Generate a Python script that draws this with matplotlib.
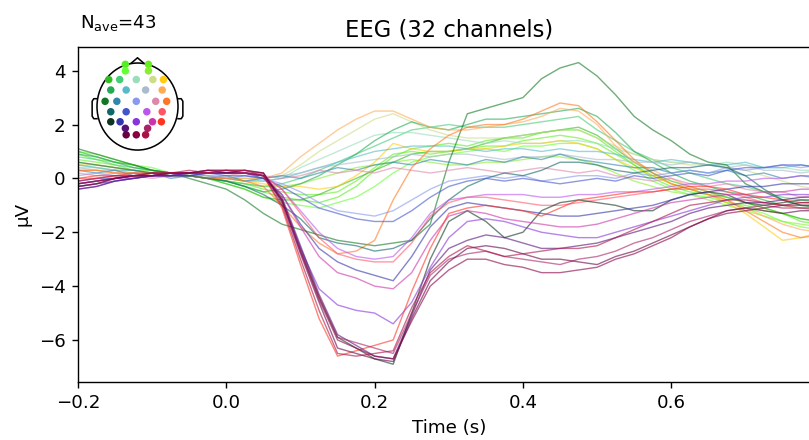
import numpy as np
import matplotlib
matplotlib.use("Agg")
import matplotlib.pyplot as plt
from matplotlib.patches import Circle, Polygon

# time axis (s), one sample every 25 ms
times = np.round(np.arange(41) * 0.025 - 0.2, 3)

ch_names = ["Fp1", "Fp2", "AF3", "AF4", "F7", "F3", "Fz", "F4", "F8",
            "FC5", "FC1", "FC2", "FC6", "T7", "C3", "Cz", "C4", "T8",
            "CP5", "CP1", "CP2", "CP6", "P7", "P3", "Pz", "P4", "P8",
            "PO3", "PO4", "O1", "Oz", "O2"]

ch_colors = ["#55ee22", "#66ee22", "#66ff33", "#88ee33", "#33bb22", "#44cc77",
             "#99ddbb", "#ccdd88", "#ffcc11", "#22aa55", "#55bbcc", "#aabbcc",
             "#ffaa55", "#117722", "#3388aa", "#8899ee", "#dd88aa", "#ff7722",
             "#116666", "#4455cc", "#bb55ee", "#ff5566", "#113322", "#3333aa",
             "#8833dd", "#cc33aa", "#ff3322", "#551177", "#aa2266", "#660044",
             "#880044", "#aa1144"]

# sensor layout on the head (unit circle)
sensor_x = [-0.30, 0.27, -0.30, 0.27, -0.71, -0.44, -0.03, 0.38, 0.64,
            -0.66, -0.28, 0.20, 0.61, -0.80, -0.51, -0.03, 0.45, 0.72,
            -0.66, -0.28, 0.23, 0.61, -0.66, -0.43, -0.03, 0.37, 0.59,
            -0.30, 0.25, -0.28, -0.03, 0.20]
sensor_y = [0.97, 0.97, 0.82, 0.82, 0.62, 0.62, 0.62, 0.62, 0.62,
            0.38, 0.38, 0.38, 0.38, 0.12, 0.12, 0.12, 0.12, 0.12,
            -0.12, -0.12, -0.12, -0.12, -0.35, -0.35, -0.35, -0.35, -0.35,
            -0.50, -0.50, -0.65, -0.65, -0.65]

# evoked amplitudes (uV)
Fp1 = [0.9, 0.7, 0.6, 0.5, 0.3, 0.2, 0.1, 0.1, -0.1, -0.3,
       -0.5, -0.7, -0.8, -0.9, -0.7, -0.3, 0.3, 0.8, 1.1, 1.2,
       1.3, 1.2, 1.4, 1.5, 1.5, 1.7, 1.8, 1.8, 1.5, 1.0,
       0.5, 0.0, -0.3, -0.5, -0.6, -0.9, -1.0, -1.2, -1.3, -1.6, -1.7]
Fp2 = [0.7, 0.6, 0.5, 0.3, 0.3, 0.2, 0.1, 0.0, -0.1, -0.2,
       -0.4, -0.5, -0.6, -0.6, -0.5, -0.1, 0.4, 0.9, 1.0, 0.9,
       1.0, 1.1, 1.2, 1.2, 1.4, 1.5, 1.6, 1.5, 1.3, 0.9,
       0.5, 0.1, -0.2, -0.4, -0.6, -0.7, -0.9, -1.1, -1.3, -1.5, -1.6]
AF3 = [1.0, 0.9, 0.7, 0.5, 0.4, 0.2, 0.1, 0.0, -0.2, -0.4,
       -0.7, -0.9, -1.0, -1.1, -0.9, -0.7, -0.3, 0.2, 0.6, 0.8,
       0.9, 1.0, 1.1, 1.0, 1.2, 1.2, 1.3, 1.3, 1.1, 0.7,
       0.3, -0.1, -0.4, -0.6, -0.7, -0.9, -1.1, -1.3, -1.6, -1.8, -1.9]
AF4 = [0.6, 0.5, 0.4, 0.3, 0.2, 0.2, 0.1, 0.0, -0.1, -0.2,
       -0.3, -0.3, -0.2, 0.0, 0.2, 0.4, 0.5, 0.6, 0.7, 0.6,
       0.5, 0.5, 0.6, 0.6, 0.7, 0.8, 0.8, 0.7, 0.5, 0.2,
       -0.1, -0.3, -0.5, -0.6, -0.8, -1.0, -1.2, -1.4, -1.6, -1.7, -1.8]
F7 = [1.0, 0.8, 0.6, 0.5, 0.3, 0.2, 0.1, 0.0, -0.2, -0.4,
      -0.7, -0.8, -0.8, -0.6, -0.3, 0.0, 0.3, 0.6, 0.9, 1.0,
      1.0, 1.1, 1.3, 1.5, 1.6, 1.7, 1.8, 1.9, 1.6, 1.1,
      0.6, 0.2, -0.1, -0.3, -0.5, -0.7, -0.9, -1.1, -1.3, -1.5, -1.6]
F3 = [0.8, 0.7, 0.5, 0.4, 0.3, 0.2, 0.1, 0.0, -0.1, -0.2,
      -0.3, -0.2, 0.0, 0.3, 0.6, 0.9, 1.2, 1.5, 1.8, 1.9,
      2.0, 1.9, 1.9, 1.9, 2.0, 2.1, 2.2, 2.3, 1.8, 1.4,
      1.0, 0.7, 0.4, 0.2, 0.0, -0.2, -0.3, -0.5, -0.7, -0.8, -0.9]
Fz = [0.5, 0.4, 0.3, 0.3, 0.2, 0.1, 0.1, 0.0, 0.0, 0.0,
      -0.1, 0.0, 0.4, 0.7, 1.0, 1.3, 1.6, 1.7, 1.7, 1.6,
      1.5, 1.4, 1.3, 1.4, 1.3, 1.3, 1.4, 1.4, 1.3, 1.1,
      0.9, 0.7, 0.6, 0.6, 0.5, 0.6, 0.5, 0.4, 0.4, 0.3, 0.3]
F4 = [0.4, 0.4, 0.3, 0.2, 0.2, 0.1, 0.1, 0.0, 0.0, 0.0,
      0.0, 0.1, 0.5, 1.0, 1.4, 1.8, 2.2, 2.4, 2.1, 1.8,
      1.6, 1.5, 1.5, 1.5, 1.6, 1.7, 1.8, 1.8, 1.5, 1.2,
      0.9, 0.7, 0.6, 0.5, 0.5, 0.4, 0.3, 0.1, -0.1, -0.3, -0.4]
F8 = [0.5, 0.5, 0.4, 0.3, 0.2, 0.2, 0.1, 0.0, 0.0, -0.1,
      -0.2, -0.3, -0.3, -0.4, -0.3, 0.1, 0.6, 1.3, 1.1, 1.0,
      1.0, 1.1, 1.1, 1.2, 1.3, 1.3, 1.4, 1.3, 1.1, 0.7,
      0.4, 0.1, -0.2, -0.4, -0.6, -0.9, -1.3, -1.8, -2.3, -2.2, -2.0]
FC5 = [0.9, 0.8, 0.6, 0.4, 0.3, 0.2, 0.1, 0.0, -0.1, -0.3,
       -0.5, -0.4, -0.2, 0.1, 0.5, 0.9, 1.4, 1.8, 2.1, 1.9,
       1.8, 2.0, 2.2, 2.2, 2.3, 2.4, 2.5, 2.6, 2.3, 1.7,
       1.0, 0.6, 0.2, -0.1, -0.3, -0.5, -0.6, -0.8, -1.0, -1.1, -1.2]
FC1 = [0.5, 0.4, 0.3, 0.3, 0.2, 0.2, 0.1, 0.0, 0.0, -0.1,
       -0.1, 0.0, 0.2, 0.4, 0.6, 0.8, 1.0, 1.1, 1.2, 1.2,
       1.2, 1.1, 1.0, 1.1, 1.1, 1.0, 1.1, 1.0, 1.0, 0.9,
       0.7, 0.6, 0.7, 0.6, 0.5, 0.5, 0.6, 0.4, 0.4, 0.5, 0.4]
FC2 = [0.4, 0.3, 0.3, 0.2, 0.2, 0.1, 0.2, 0.1, 0.0, 0.1,
       0.0, 0.1, 0.2, 0.4, 0.5, 0.6, 0.7, 0.8, 0.9, 0.8,
       0.9, 0.9, 0.8, 0.7, 0.8, 0.8, 0.9, 0.8, 0.7, 0.7,
       0.6, 0.6, 0.5, 0.6, 0.5, 0.4, 0.5, 0.3, 0.3, 0.2, 0.3]
FC6 = [0.3, 0.3, 0.2, 0.2, 0.1, 0.1, 0.1, 0.0, 0.0, 0.0,
       0.0, 0.2, 0.8, 1.3, 1.8, 2.2, 2.5, 2.5, 2.2, 1.9,
       1.8, 1.8, 1.9, 2.0, 2.1, 2.3, 2.6, 2.5, 2.0, 1.2,
       0.6, 0.3, 0.0, -0.3, -0.5, -0.8, -1.1, -1.4, -1.7, -1.9, -2.0]
T7 = [1.1, 0.9, 0.7, 0.5, 0.3, 0.2, 0.0, -0.2, -0.4, -0.8,
      -1.3, -1.7, -1.9, -2.1, -2.3, -2.4, -2.5, -2.4, -2.3, -1.7,
      0.6, 2.4, 2.6, 2.8, 3.0, 3.7, 4.1, 4.3, 3.8, 3.1,
      2.3, 1.8, 1.4, 0.9, 0.6, 0.5, -0.2, -0.5, -0.8, -1.0, -1.1]
C3 = [0.3, 0.2, 0.3, 0.1, 0.2, 0.0, 0.1, 0.0, 0.1, -0.1,
      0.0, 0.1, 0.0, 0.2, 0.4, 0.3, 0.5, 0.6, 0.5, 0.7,
      0.6, 0.5, 0.7, 0.6, 0.8, 0.7, 0.9, 0.7, 0.6, 0.5,
      0.4, 0.4, 0.2, 0.3, 0.2, 0.3, 0.1, 0.2, 0.0, 0.1, 0.0]
Cz = [0.1, 0.2, 0.1, 0.0, 0.1, 0.2, 0.1, 0.1, 0.0, 0.1,
      0.0, -0.2, -0.5, -0.9, -1.2, -1.3, -1.4, -1.2, -0.8, -0.4,
      -0.1, 0.0, 0.1, 0.0, 0.1, -0.1, 0.0, 0.1, 0.1, 0.0,
      0.2, 0.1, 0.2, 0.3, 0.2, 0.4, 0.3, 0.4, 0.5, 0.4, 0.5]
C4 = [0.2, 0.1, 0.2, 0.1, 0.0, 0.1, 0.2, 0.1, 0.1, 0.2,
      0.1, 0.0, 0.1, 0.3, 0.2, 0.3, 0.2, 0.4, 0.3, 0.2,
      0.3, 0.4, 0.3, 0.2, 0.3, 0.4, 0.3, 0.2, 0.3, 0.1,
      0.0, -0.1, 0.0, -0.2, -0.3, -0.2, -0.4, -0.5, -0.5, -0.7, -0.6]
T8 = [0.3, 0.3, 0.2, 0.2, 0.1, 0.1, 0.1, 0.0, 0.0, -0.1,
      -0.3, -1.0, -1.8, -2.4, -2.8, -2.7, -2.3, -0.8, 0.4, 1.1,
      1.6, 1.9, 2.0, 2.0, 2.2, 2.5, 2.8, 2.7, 2.1, 1.4,
      0.7, 0.2, -0.2, -0.4, -0.6, -0.8, -1.2, -1.6, -2.0, -2.2, -2.1]
CP5 = [0.6, 0.5, 0.4, 0.3, 0.2, 0.1, 0.1, 0.0, -0.1, -0.3,
       -0.6, -1.0, -1.5, -2.2, -2.4, -2.5, -2.7, -2.6, -2.3, -1.5,
       -0.8, -0.3, 0.0, 0.2, 0.1, 0.3, 0.6, 0.6, 0.5, 0.3,
       0.2, 0.3, 0.4, 0.4, 0.5, 0.4, 0.1, -0.4, -0.8, -1.0, -1.0]
CP1 = [-0.1, 0.0, 0.0, 0.1, 0.1, 0.1, 0.1, 0.2, 0.1, 0.1,
       0.0, -0.3, -0.7, -1.1, -1.3, -1.5, -1.6, -1.6, -1.2, -0.7,
       -0.3, -0.1, 0.0, -0.1, 0.0, -0.1, -0.2, -0.1, 0.0, -0.1,
       0.1, 0.0, 0.1, 0.2, 0.1, 0.3, 0.4, 0.4, 0.5, 0.5, 0.4]
CP2 = [-0.2, -0.1, 0.0, 0.0, 0.1, 0.1, 0.2, 0.2, 0.2, 0.2,
       0.1, -0.4, -1.2, -2.0, -2.6, -2.9, -3.0, -2.9, -2.2, -1.3,
       -0.8, -0.7, -0.6, -0.6, -0.6, -0.7, -0.7, -0.6, -0.6, -0.5,
       -0.5, -0.4, -0.3, -0.2, -0.2, -0.1, -0.1, 0.0, 0.0, 0.1, 0.1]
CP6 = [0.0, 0.0, 0.1, 0.1, 0.1, 0.2, 0.2, 0.2, 0.2, 0.2,
       0.1, -0.4, -1.3, -2.2, -2.8, -3.0, -3.1, -3.1, -2.4, -1.4,
       -0.9, -0.7, -0.7, -0.8, -0.9, -1.0, -1.0, -0.9, -0.8, -0.7,
       -0.6, -0.5, -0.4, -0.4, -0.4, -0.5, -0.7, -0.9, -1.0, -1.1, -1.1]
P7 = [-0.2, -0.1, 0.0, 0.1, 0.1, 0.2, 0.2, 0.2, 0.2, 0.2,
      0.1, -0.8, -2.6, -4.4, -5.9, -6.3, -6.7, -6.9, -5.0, -3.0,
      -1.6, -1.2, -1.6, -2.2, -2.0, -1.2, -0.9, -0.8, -0.9, -1.0,
      -1.2, -1.2, -0.8, -0.6, -0.5, -0.6, -0.9, -1.0, -0.9, -0.8, -0.8]
P3 = [-0.3, -0.2, -0.1, 0.0, 0.1, 0.1, 0.1, 0.2, 0.2, 0.2,
      0.0, -0.6, -1.7, -2.6, -3.1, -3.4, -3.6, -3.8, -2.9, -1.8,
      -1.1, -0.9, -1.0, -1.1, -1.2, -1.3, -1.4, -1.4, -1.3, -1.2,
      -1.1, -1.0, -0.8, -0.6, -0.5, -0.4, -0.3, -0.3, -0.2, -0.2, -0.2]
Pz = [-0.4, -0.3, -0.1, 0.0, 0.1, 0.1, 0.2, 0.2, 0.2, 0.2,
      0.1, -0.8, -2.6, -4.1, -4.7, -4.9, -5.0, -5.4, -4.6, -3.3,
      -2.2, -1.6, -1.5, -1.6, -1.8, -2.0, -2.1, -2.2, -2.2, -2.0,
      -1.8, -1.6, -1.4, -1.2, -1.0, -0.8, -0.7, -0.7, -0.6, -0.6, -0.6]
P4 = [-0.2, -0.1, 0.0, 0.1, 0.1, 0.2, 0.2, 0.2, 0.2, 0.2,
      0.1, -0.6, -1.8, -2.9, -3.5, -3.7, -4.0, -4.1, -3.5, -2.3,
      -1.4, -1.2, -1.3, -1.5, -1.6, -1.7, -1.8, -1.8, -1.7, -1.5,
      -1.3, -1.1, -0.9, -0.8, -0.7, -0.6, -0.6, -0.5, -0.5, -0.4, -0.4]
P8 = [0.0, 0.1, 0.1, 0.2, 0.2, 0.2, 0.2, 0.2, 0.3, 0.2,
      0.1, -1.1, -3.2, -5.2, -6.6, -6.4, -6.2, -6.0, -4.2, -2.6,
      -1.3, -1.1, -1.0, -1.1, -1.2, -1.4, -1.1, -0.8, -0.7, -0.6,
      -0.5, -0.5, -0.4, -0.3, -0.3, -0.4, -0.6, -0.7, -0.8, -0.9, -0.9]
PO3 = [-0.4, -0.3, -0.1, 0.0, 0.1, 0.1, 0.2, 0.2, 0.2, 0.2,
       0.1, -0.7, -2.5, -4.3, -5.8, -6.2, -6.6, -6.7, -5.1, -3.4,
       -2.6, -2.3, -2.1, -2.2, -2.4, -2.6, -2.6, -2.5, -2.4, -2.2,
       -2.0, -1.8, -1.6, -1.3, -1.1, -1.0, -0.9, -0.9, -0.8, -0.7, -0.7]
PO4 = [-0.3, -0.2, 0.0, 0.1, 0.1, 0.2, 0.2, 0.3, 0.3, 0.2,
       0.2, -0.8, -2.7, -4.4, -5.9, -6.1, -6.3, -6.5, -5.0, -3.6,
       -3.0, -2.8, -2.7, -2.9, -3.0, -3.1, -3.2, -3.0, -2.9, -2.7,
       -2.4, -2.2, -1.9, -1.6, -1.4, -1.2, -1.1, -1.0, -1.1, -1.1, -1.1]
O1 = [-0.3, -0.2, 0.0, 0.1, 0.1, 0.2, 0.2, 0.3, 0.2, 0.3,
      0.2, -0.9, -2.8, -4.6, -6.3, -6.5, -6.7, -6.8, -5.2, -3.8,
      -3.1, -2.6, -2.5, -2.6, -2.8, -3.0, -3.0, -3.1, -3.2, -2.9,
      -2.7, -2.4, -2.1, -1.8, -1.5, -1.2, -1.1, -1.2, -1.3, -1.2, -1.2]
Oz = [-0.2, -0.1, 0.0, 0.1, 0.2, 0.2, 0.2, 0.3, 0.3, 0.3,
      0.2, -0.8, -2.7, -4.5, -6.0, -6.3, -6.6, -6.7, -5.3, -4.0,
      -3.4, -3.0, -3.0, -3.2, -3.3, -3.5, -3.5, -3.4, -3.3, -3.0,
      -2.8, -2.5, -2.2, -1.8, -1.5, -1.3, -1.2, -1.1, -1.0, -0.9, -0.9]
O2 = [-0.1, 0.0, 0.1, 0.1, 0.2, 0.2, 0.3, 0.2, 0.3, 0.3,
      0.1, -1.0, -3.0, -4.9, -6.5, -6.6, -6.5, -6.4, -4.8, -3.5,
      -2.9, -2.5, -2.7, -2.9, -2.8, -2.7, -2.6, -2.6, -2.5, -2.2,
      -1.9, -1.6, -1.3, -1.0, -0.9, -0.8, -0.8, -0.9, -1.0, -1.0, -1.0]

traces = [Fp1, Fp2, AF3, AF4, F7, F3, Fz, F4, F8, FC5, FC1, FC2, FC6, T7,
          C3, Cz, C4, T8, CP5, CP1, CP2, CP6, P7, P3, Pz, P4, P8, PO3, PO4,
          O1, Oz, O2]
n_ave = 43

W, H = 809, 440
fig = plt.figure(figsize=(W / 125, H / 125), dpi=125)
ax = fig.add_axes([78 / W, 1 - 382 / H, 741.6 / W, 335.3 / H])

for vals, col in zip(traces, ch_colors):
    ax.plot(times, vals, color=col, lw=0.8, alpha=0.6)

ax.set_xlim(-0.2, 0.8)
ax.set_ylim(-7.56, 4.89)
ax.set_xticks([-0.2, 0.0, 0.2, 0.4, 0.6])
ax.set_yticks([-6, -4, -2, 0, 2, 4])
ax.spines["right"].set_visible(False)
ax.tick_params(labelsize=10.5)
ax.set_xlabel("Time (s)", fontsize=10.5)
ax.set_ylabel("µV", fontsize=10.5)
ax.set_title("EEG (32 channels)", fontsize=13)
ax.text(0.003, 1.056, r"N$_{\mathrm{ave}}$=%d" % n_ave, transform=ax.transAxes,
        fontsize=10.5, va="baseline", ha="left")

# sensor layout inset
hx = fig.add_axes([88.9 / W, 1 - 154.4 / H, 97.2 / W, 97.9 / H])
hx.set_xlim(-1.2, 1.2)
hx.set_ylim(-1.1, 1.15)
hx.axis("off")
hx.add_patch(Circle((0, 0), 1.0, fill=False, ec="k", lw=0.9))
hx.add_patch(Polygon([(-0.17, 0.985), (0, 1.12), (0.17, 0.985)], closed=False,
                     fill=False, ec="k", lw=0.9))
ear_x = [1.0, 1.08, 1.12, 1.12, 1.08, 1.0]
ear_y = [0.18, 0.18, 0.12, -0.22, -0.28, -0.28]
hx.plot(ear_x, ear_y, color="k", lw=0.9)
hx.plot([-x for x in ear_x], ear_y, color="k", lw=0.9)
hx.scatter(sensor_x, sensor_y, c=ch_colors, s=11, zorder=3)

fig.savefig("out.png", dpi=125)
